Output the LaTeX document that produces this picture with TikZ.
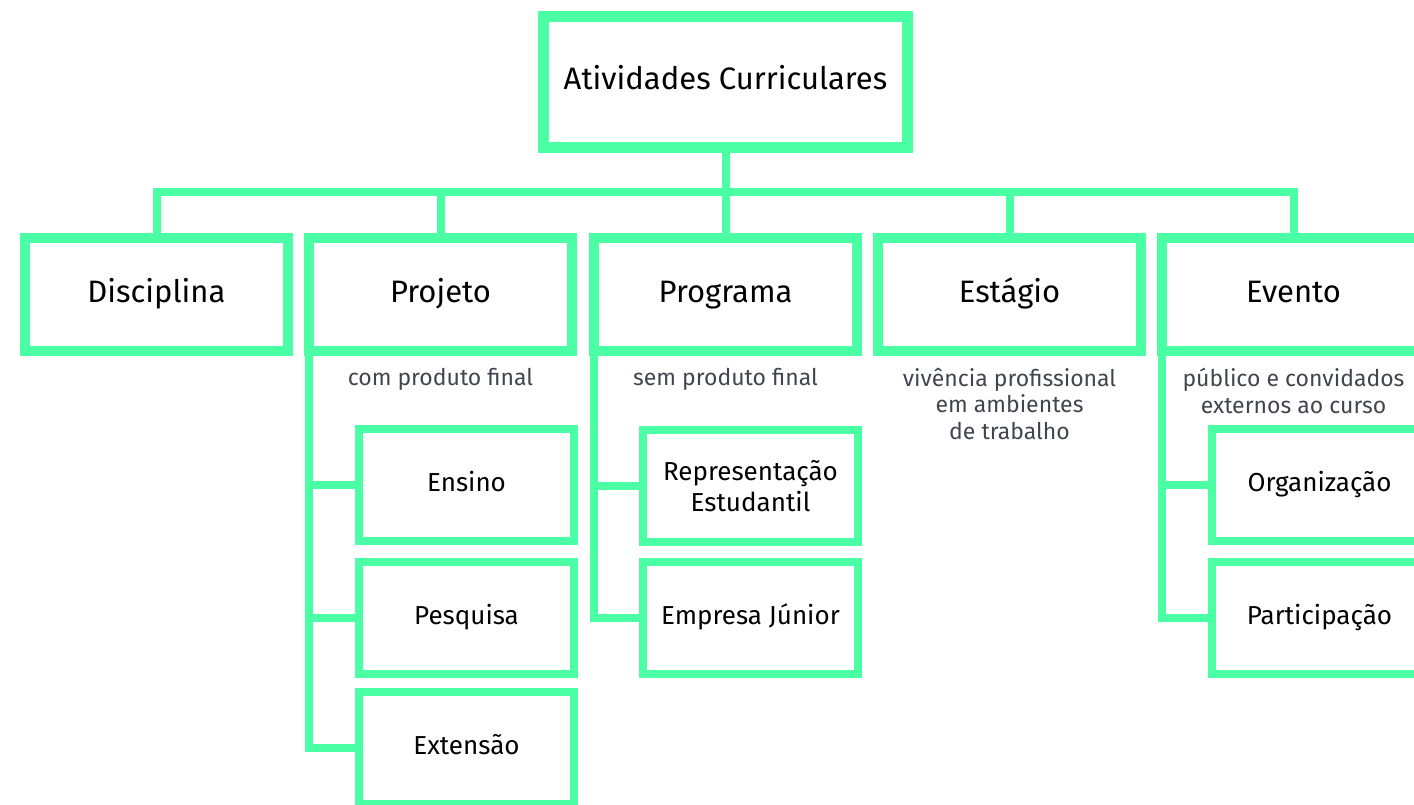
\documentclass[tikz,border=0pt]{standalone}
\usepackage{fontspec}
\setmainfont{Fira Sans}
\usetikzlibrary{calc}
\definecolor{mint}{RGB}{75,255,165}
\definecolor{slate}{RGB}{64,70,78}
\begin{document}
\begin{tikzpicture}[x=1pt,y=-1pt,
  mainbox/.style={draw=mint, line width=11pt, minimum width=364pt, minimum height=131pt, inner sep=0pt,
    font=\fontsize{31}{37}\selectfont, text height=22pt, text depth=7pt},
  catbox/.style={draw=mint, line width=10pt, minimum width=263pt, minimum height=113pt, inner sep=0pt,
    font=\fontsize{31}{37}\selectfont, text height=22.5pt, text depth=7pt},
  subbox/.style={draw=mint, line width=8pt, minimum width=215pt, minimum height=112pt, inner sep=0pt,
    font=\fontsize{26}{31}\selectfont, align=center},
  sublabel/.style={text height=19pt, text depth=6pt},
  note/.style={text=slate, font=\fontsize{23}{26.5}\selectfont, align=center, anchor=north, inner sep=0pt},
  link/.style={draw=mint, line width=8pt, line join=miter}
]
\useasboundingbox (0,0) rectangle (1414,805);
\clip (0,0) rectangle (1414,805);

% top
\node[mainbox] (top) at (725.5,82) {Atividades Curriculares};

% categories
\node[catbox] (dis) at (156.5,294.5) {Disciplina};
\node[catbox] (pro) at (440.5,294.5) {Projeto};
\node[catbox] (prg) at (725.5,294.5) {Programa};
\node[catbox] (est) at (1009.5,294.5) {Estágio};
\node[catbox] (eve) at (1293.5,294.5) {Evento};

% bus
\coordinate (bus) at (0,192);
\draw[link] (dis.north) -- (dis.north |- bus) -- (eve.north |- bus) -- (eve.north);
\draw[link] (top.south) -- (top.south |- bus);
\draw[link] (pro.north) -- (pro.north |- bus);
\draw[link] (prg.north) -- (prg.north |- bus);
\draw[link] (est.north) -- (est.north |- bus);

% notes
\node[note] (npro) at (440.5,368) {com produto final};
\node[note] (nprg) at (725.5,368) {sem produto final};
\node[note] (nest) at (1009.5,368) {vivência profissional\\em ambientes\\de trabalho};
\node[note] (neve) at (1293.5,368) {público e convidados\\externos ao curso};

% sub boxes
\node[subbox,sublabel] (ens) at (466.5,485) {Ensino};
\node[subbox,sublabel] (pes) at (466.5,617.5) {Pesquisa};
\node[subbox,sublabel] (ext) at (466.5,748) {Extensão};

\node[subbox] (rep) at (750.5,486) {Representação\\Estudantil};
\node[subbox,sublabel] (emp) at (750.5,617.5) {Empresa Júnior};

\node[subbox,sublabel] (org) at (1319.5,485) {Organização};
\node[subbox,sublabel] (par) at (1319.5,617.5) {Participação};

% sub connectors
\coordinate (pj) at ([xshift=5pt]pro.south west);
\draw[link] (pj) |- (ext.west);
\draw[link] (ens.west) -- (ens.west -| pj);
\draw[link] (pes.west) -- (pes.west -| pj);

\coordinate (pg) at ([xshift=5pt]prg.south west);
\draw[link] (pg) |- (emp.west);
\draw[link] (rep.west) -- (rep.west -| pg);

\coordinate (pe) at ([xshift=5pt]eve.south west);
\draw[link] (pe) |- (par.west);
\draw[link] (org.west) -- (org.west -| pe);
\end{tikzpicture}
\end{document}
